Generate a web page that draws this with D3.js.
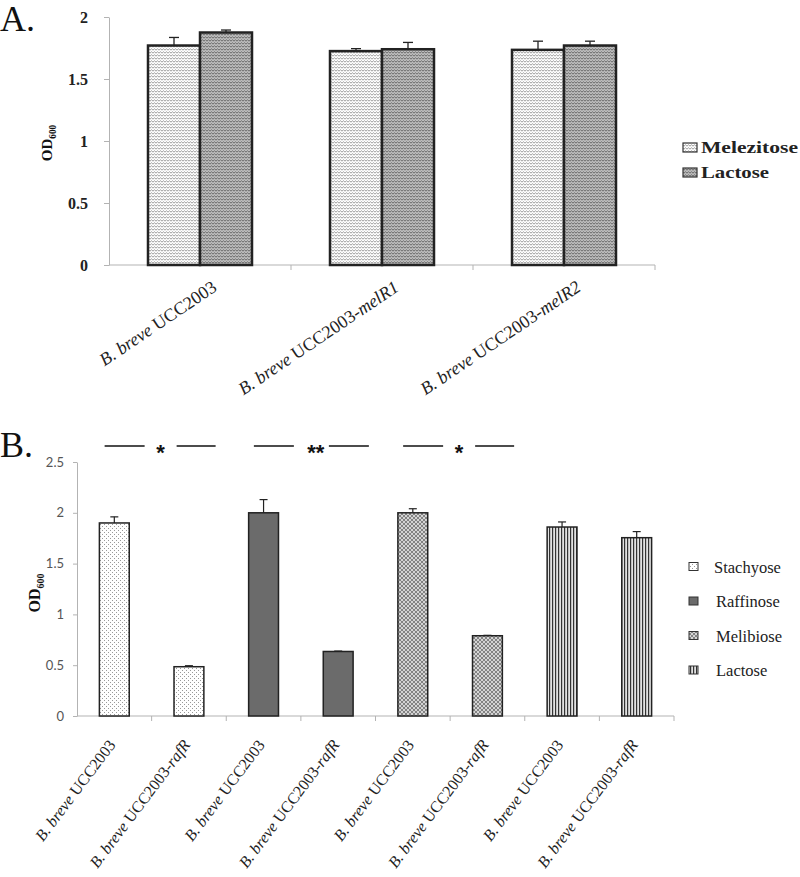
<!DOCTYPE html>
<html><head><meta charset="utf-8">
<script src="https://cdn.jsdelivr.net/npm/d3@7"></script>
<style>body{margin:0;background:#fff}svg{display:block}</style>
</head><body><svg id="c" width="800" height="877"></svg>
<script>
// ---------- Panel A data ----------
const catsA = ["B. breve UCC2003", "B. breve UCC2003-melR1", "B. breve UCC2003-melR2"];
const seriesA = ["Melezitose", "Lactose"];
const melezitoseA = [1.77, 1.725, 1.735];
const melezitoseErrA = [0.065, 0.02, 0.07];
const lactoseA = [1.875, 1.74, 1.77];
const lactoseErrA = [0.02, 0.055, 0.035];
const ticksA = [0, 0.5, 1, 1.5, 2];

// ---------- Panel B data ----------
const catsB = ["B. breve UCC2003", "B. breve UCC2003-rafR", "B. breve UCC2003", "B. breve UCC2003-rafR",
               "B. breve UCC2003", "B. breve UCC2003-rafR", "B. breve UCC2003", "B. breve UCC2003-rafR"];
const seriesB = ["Stachyose", "Raffinose", "Melibiose", "Lactose"];
const sugarB = ["Stachyose", "Stachyose", "Raffinose", "Raffinose", "Melibiose", "Melibiose", "Lactose", "Lactose"];
const valuesB = [1.9, 0.485, 2.0, 0.635, 2.0, 0.79, 1.86, 1.755];
const errB = [0.06, 0.01, 0.13, 0.004, 0.04, 0.004, 0.05, 0.06];
const ticksB = [0, 0.5, 1, 1.5, 2, 2.5];
const sigPairs = [[0, 1], [2, 3], [4, 5]];
const sigLabels = ["*", "**", "*"];

const svg = d3.select("#c");
const serif = "'Liberation Serif','Times New Roman',serif";
const axisGray = "#b3b3b3";

// ---------- patterns ----------
const defs = svg.append("defs");
function pat(id, w, h, bg, draw) {
  const p = defs.append("pattern").attr("id", id).attr("patternUnits", "userSpaceOnUse")
    .attr("width", w).attr("height", h);
  p.append("rect").attr("width", w).attr("height", h).attr("fill", bg);
  if (draw) draw(p);
}
pat("pMelA", 6, 3, "#ffffff", p => p.append("path").attr("d", "M0,2.2 L1.5,0.8 L3,2.2 L4.5,0.8 L6,2.2")
  .attr("fill", "none").attr("stroke", "#8c8c8c").attr("stroke-width", 0.9));
pat("pLacA", 6, 3, "#bdbdbd", p => p.append("path").attr("d", "M0,2.2 L1.5,0.8 L3,2.2 L4.5,0.8 L6,2.2")
  .attr("fill", "none").attr("stroke", "#5a5a5a").attr("stroke-width", 0.9));
pat("pSta", 4, 4, "#ffffff", p => {
  p.append("rect").attr("x", 0).attr("y", 0).attr("width", 1).attr("height", 1).attr("fill", "#999");
  p.append("rect").attr("x", 2).attr("y", 2).attr("width", 1).attr("height", 1).attr("fill", "#999");
});
pat("pRaf", 4, 4, "#6b6b6b");
pat("pMelB", 4, 4, "#d4d4d4", p => {
  p.append("path").attr("d", "M-1,1 L1,-1 M0,4 L4,0 M3,5 L5,3 M-1,3 L1,5 M0,0 L4,4 M3,-1 L5,1")
    .attr("stroke", "#6e6e6e").attr("stroke-width", 0.8);
});
pat("pLacB", 3, 4, "#e2e2e2", p => p.append("rect").attr("x", 0).attr("width", 1.2).attr("height", 4).attr("fill", "#333"));

const fillA = d3.scaleOrdinal(seriesA, ["url(#pMelA)", "url(#pLacA)"]);
const fillB = d3.scaleOrdinal(seriesB, ["url(#pSta)", "url(#pRaf)", "url(#pMelB)", "url(#pLacB)"]);

function addLabel(sel, s) {
  const rest = s.slice(9);
  const [main, suffix] = rest.split("-");
  sel.append("tspan").attr("font-style", "italic").text("B. breve");
  sel.append("tspan").text(" " + main);
  if (suffix) {
    sel.append("tspan").text("-");
    sel.append("tspan").attr("font-style", "italic").text(suffix);
  }
}
function odLabel(g, x, y, size) {
  const t = g.append("text").attr("transform", `translate(${x},${y}) rotate(-90)`)
    .attr("text-anchor", "middle").attr("font-family", serif).attr("font-weight", "bold")
    .attr("font-size", size).attr("fill", "#111");
  t.append("tspan").text("OD");
  t.append("tspan").attr("font-size", size * 0.62).attr("dy", size * 0.25).text("600");
}

// =================== PANEL A ===================
const gA = svg.append("g");
const yA = d3.scaleLinear([0, 2], [265, 17]);
const xA0 = d3.scaleBand(catsA, [109, 655]).padding(0);
const xA1 = d3.scaleBand(seriesA, [0, xA0.bandwidth()]).paddingInner(0).paddingOuter(0.75);

gA.append("text").attr("x", 0).attr("y", 31).attr("font-family", serif).attr("font-size", 36)
  .attr("fill", "#111").text("A.");

const yAxisA = gA.append("g").attr("transform", "translate(109,0)")
  .call(d3.axisLeft(yA).tickValues(ticksA).tickFormat(d3.format("")).tickSize(5).tickSizeOuter(0).tickPadding(16));
yAxisA.select(".domain").attr("stroke", axisGray);
yAxisA.selectAll(".tick line").attr("stroke", axisGray);
yAxisA.selectAll(".tick text").attr("font-family", serif).attr("font-weight", "bold")
  .attr("font-size", 16).attr("fill", "#222");

const bA = [0, 1, 2, 3].map(i => xA0.range()[0] + i * xA0.step());
gA.append("line").attr("x1", bA[0]).attr("x2", bA[3]).attr("y1", yA(0)).attr("y2", yA(0)).attr("stroke", axisGray);
gA.selectAll(".tkA").data(bA.slice(1)).join("line").attr("x1", d => d).attr("x2", d => d)
  .attr("y1", yA(0)).attr("y2", yA(0) + 5).attr("stroke", axisGray);

const dataA = [];
catsA.forEach((c, i) => {
  dataA.push({ cat: c, s: "Melezitose", v: melezitoseA[i], e: melezitoseErrA[i] });
  dataA.push({ cat: c, s: "Lactose", v: lactoseA[i], e: lactoseErrA[i] });
});
gA.selectAll(".barA").data(dataA).join("rect")
  .attr("x", d => xA0(d.cat) + xA1(d.s)).attr("width", xA1.bandwidth())
  .attr("y", d => yA(d.v)).attr("height", d => yA(0) - yA(d.v))
  .attr("fill", d => fillA(d.s)).attr("stroke", "#222").attr("stroke-width", 2.5);
const errGA = gA.selectAll(".errA").data(dataA).join("g");
errGA.append("line").attr("x1", d => xA0(d.cat) + xA1(d.s) + xA1.bandwidth() / 2)
  .attr("x2", d => xA0(d.cat) + xA1(d.s) + xA1.bandwidth() / 2)
  .attr("y1", d => yA(d.v)).attr("y2", d => yA(d.v + d.e)).attr("stroke", "#222").attr("stroke-width", 1.3);
errGA.append("line").attr("x1", d => xA0(d.cat) + xA1(d.s) + xA1.bandwidth() / 2 - 5)
  .attr("x2", d => xA0(d.cat) + xA1(d.s) + xA1.bandwidth() / 2 + 5)
  .attr("y1", d => yA(d.v + d.e)).attr("y2", d => yA(d.v + d.e)).attr("stroke", "#222").attr("stroke-width", 1.3);

gA.selectAll(".lblA").data(catsA).join("text")
  .attr("transform", d => `translate(${xA0(d) + xA0.bandwidth() / 2 + 18},290) rotate(-34)`)
  .attr("text-anchor", "end").attr("font-family", serif).attr("font-size", 18).attr("fill", "#222")
  .each(function (d) { addLabel(d3.select(this), d); });

odLabel(gA, 52, 143, 15);

const legA = d3.scalePoint(seriesA, [147.5, 172.5]);
const lgA = gA.selectAll(".legA").data(seriesA).join("g");
lgA.append("rect").attr("x", 683).attr("y", d => legA(d) - 4.5).attr("width", 14).attr("height", 9)
  .attr("fill", d => fillA(d)).attr("stroke", "#333").attr("stroke-width", 1.2);
lgA.append("text").attr("x", 701).attr("y", d => legA(d) + 5.5).attr("font-family", serif)
  .attr("font-weight", "bold").attr("font-size", 16).attr("fill", "#222")
  .attr("textLength", d => d === "Melezitose" ? 97 : 68).attr("lengthAdjust", "spacingAndGlyphs")
  .text(d => d);

// =================== PANEL B ===================
const gB = svg.append("g");
const yB = d3.scaleLinear([0, 2.5], [716, 462]);
const idxB = d3.range(catsB.length);
const xB = d3.scaleBand(idxB, [77, 674]).paddingInner(0.6).paddingOuter(0.3);

gB.append("text").attr("x", 0).attr("y", 457).attr("font-family", serif).attr("font-size", 36)
  .attr("fill", "#111").text("B.");

const yAxisB = gB.append("g").attr("transform", "translate(77,0)")
  .call(d3.axisLeft(yB).tickValues(ticksB).tickFormat(d3.format("")).tickSize(4).tickSizeOuter(0).tickPadding(9));
yAxisB.select(".domain").attr("stroke", axisGray);
yAxisB.selectAll(".tick line").attr("stroke", axisGray);
yAxisB.selectAll(".tick text").attr("font-family", "Lato,'Open Sans',sans-serif")
  .attr("font-size", 13).attr("fill", "#555");

const bB = d3.range(catsB.length + 1).map(i => xB.range()[0] + i * xB.step());
gB.append("line").attr("x1", bB[0]).attr("x2", bB[bB.length - 1]).attr("y1", yB(0)).attr("y2", yB(0)).attr("stroke", axisGray);
gB.selectAll(".tkB").data(bB.slice(1)).join("line").attr("x1", d => d).attr("x2", d => d)
  .attr("y1", yB(0)).attr("y2", yB(0) + 5).attr("stroke", axisGray);

gB.selectAll(".barB").data(idxB).join("rect")
  .attr("x", i => xB(i)).attr("width", xB.bandwidth())
  .attr("y", i => yB(valuesB[i])).attr("height", i => yB(0) - yB(valuesB[i]))
  .attr("fill", i => fillB(sugarB[i])).attr("stroke", "#222").attr("stroke-width", 1.5);
const errGB = gB.selectAll(".errB").data(idxB).join("g");
errGB.append("line").attr("x1", i => xB(i) + xB.bandwidth() / 2).attr("x2", i => xB(i) + xB.bandwidth() / 2)
  .attr("y1", i => yB(valuesB[i])).attr("y2", i => yB(valuesB[i] + errB[i])).attr("stroke", "#222").attr("stroke-width", 1.2);
errGB.append("line").attr("x1", i => xB(i) + xB.bandwidth() / 2 - 4).attr("x2", i => xB(i) + xB.bandwidth() / 2 + 4)
  .attr("y1", i => yB(valuesB[i] + errB[i])).attr("y2", i => yB(valuesB[i] + errB[i])).attr("stroke", "#222").attr("stroke-width", 1.2);

gB.selectAll(".lblB").data(idxB).join("text")
  .attr("transform", i => `translate(${xB(i) + xB.bandwidth() / 2 + 2},745) rotate(-53)`)
  .attr("text-anchor", "end").attr("font-family", serif).attr("font-size", 16).attr("fill", "#222")
  .each(function (i) { addLabel(d3.select(this), catsB[i]); });

odLabel(gB, 40, 593, 16);

// significance markers
const sigY = yB(2.5) - 16;
sigPairs.forEach((pr, k) => {
  const cx = (xB(pr[0]) + xB(pr[1]) + xB.bandwidth()) / 2;
  const g = gB.append("g");
  g.append("line").attr("x1", cx - 47).attr("x2", cx - 7).attr("y1", sigY).attr("y2", sigY).attr("stroke", "#111").attr("stroke-width", 1.4);
  g.append("line").attr("x1", cx + (sigLabels[k].length > 1 ? 28 : 25)).attr("x2", cx + (sigLabels[k].length > 1 ? 68 : 64))
    .attr("y1", sigY).attr("y2", sigY).attr("stroke", "#111").attr("stroke-width", 1.4);
  g.append("text").attr("x", cx + (sigLabels[k].length > 1 ? 15 : 9)).attr("y", sigY + 14)
    .attr("text-anchor", "middle").attr("font-family", "'Liberation Sans',Arial,sans-serif")
    .attr("font-weight", "bold").attr("font-size", 22).attr("fill", "#111").text(sigLabels[k]);
});

const legB = d3.scalePoint(seriesB, [566.5, 670]);
const lgB = gB.selectAll(".legB").data(seriesB).join("g");
lgB.append("rect").attr("x", 689).attr("y", d => legB(d) - 4).attr("width", 9).attr("height", 8)
  .attr("fill", d => fillB(d)).attr("stroke", "#333").attr("stroke-width", 1);
lgB.append("text").attr("x", (d, i) => i === 0 ? 714 : 716).attr("y", d => legB(d) + 6)
  .attr("font-family", serif).attr("font-size", 16.5).attr("fill", "#222").text(d => d);
</script></body></html>
